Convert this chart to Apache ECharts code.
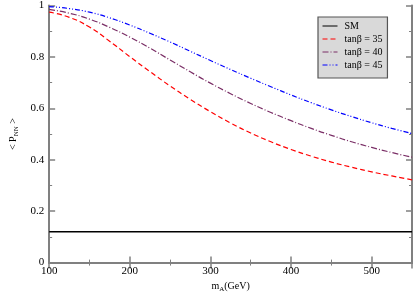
<!DOCTYPE html>
<html>
<head>
<meta charset="utf-8">
<script src="https://cdn.jsdelivr.net/npm/echarts@6/dist/echarts.min.js"></script>
<style>html,body{margin:0;padding:0;background:#fff}#c{width:415px;height:298px}</style>
</head>
<body>
<div id="c"></div>
<script>
var mA = [100,125,150,175,200,225,250,275,300,325,350,375,400,425,450,475,500,525,550];
var tan35 = [0.974,0.954,0.916,0.861,0.801,0.743,0.687,0.635,0.587,0.543,0.504,0.470,0.440,0.414,0.391,0.371,0.353,0.337,0.322];
var tan40 = [0.985,0.970,0.947,0.915,0.877,0.834,0.788,0.742,0.698,0.657,0.619,0.584,0.552,0.522,0.495,0.470,0.448,0.428,0.410];
var tan45 = [0.996,0.988,0.974,0.952,0.924,0.892,0.858,0.822,0.786,0.751,0.717,0.684,0.652,0.622,0.594,0.568,0.544,0.522,0.502];
var smX = [100,550];
var smY = [0.12,0.12];
var seriesNames = ['SM','tan\u03b2 = 35','tan\u03b2 = 40','tan\u03b2 = 45'];
var xTickLabels = ['100','200','300','400','500'];
var yTickLabels = ['0','0.2','0.4','0.6','0.8','1'];

function pairs(xs, ys){ return xs.map(function(x,i){return [x, ys[i]];}); }
var serif = 'Liberation Serif';
var axisGray = '#808080';

var chart = echarts.init(document.getElementById('c'));
function axisCommon(){
  return {
    axisLine:{show:true, lineStyle:{color:axisGray, width:2}},
    axisTick:{show:true, inside:true, length:6, lineStyle:{color:axisGray, width:1.5}},
    minorTick:{show:true, splitNumber:2, length:3, lineStyle:{color:axisGray, width:1}},
    splitLine:{show:false}
  };
}
var xB = Object.assign(axisCommon(), {
  type:'value', min:100, max:550, interval:100, position:'bottom',
  axisLabel:{fontFamily:serif, fontSize:11, color:'#000', margin:3,
    formatter:function(v){ var s=String(v); return xTickLabels.indexOf(s)>=0 ? s : ''; }},
  name:'m{sub|A}(GeV)', nameLocation:'middle', nameGap:17,
  nameTextStyle:{fontFamily:serif, fontSize:10, color:'#000', rich:{sub:{fontFamily:serif, fontSize:7, verticalAlign:'bottom', padding:[6,0,0,0]}}}
});
var xT = Object.assign(axisCommon(), {type:'value', min:100, max:550, interval:100, position:'top', axisLabel:{show:false}});
var yL = Object.assign(axisCommon(), {
  type:'value', min:0, max:1, interval:0.2, position:'left',
  axisLabel:{fontFamily:serif, fontSize:11, color:'#000', margin:5,
    formatter:function(v){ var s=String(Math.round(v*10)/10); return yTickLabels.indexOf(s)>=0 ? s : ''; }},
  name:'< P{sub|NN} >', nameLocation:'middle', nameGap:27, nameRotate:90,
  nameTextStyle:{fontFamily:serif, fontSize:10, color:'#000', rich:{sub:{fontFamily:serif, fontSize:7, padding:[6,0,0,0]}}}
});
var yR = Object.assign(axisCommon(), {type:'value', min:0, max:1, interval:0.2, position:'right', axisLabel:{show:false}});

chart.setOption({
  animation:false,
  grid:{left:33, right:1, top:5, bottom:28, containLabel:false},
  xAxis:[xB, xT],
  yAxis:[yL, yR],
  legend:{
    orient:'vertical', left:318, top:17, padding:[4,5,8,4], itemGap:3,
    backgroundColor:'#d9d9d9', borderColor:'#555', borderWidth:1.2, borderRadius:0,
    itemWidth:15, itemHeight:10,
    itemStyle:{opacity:0},
    lineStyle:{width:1},
    textStyle:{fontFamily:serif, fontSize:10, color:'#000', padding:[0,0,0,2]},
    data:seriesNames
  },
  series:[
    {name:seriesNames[0], type:'line', symbol:'none', data:pairs(smX,smY), lineStyle:{color:'#000', width:1.5}, itemStyle:{color:'#000'}},
    {name:seriesNames[1], type:'line', symbol:'none', data:pairs(mA,tan35), smooth:true, lineStyle:{color:'#ff0000', width:1.2, type:[5,3]}, itemStyle:{color:'#ff0000'}},
    {name:seriesNames[2], type:'line', symbol:'none', data:pairs(mA,tan40), smooth:true, lineStyle:{color:'#7a2e66', width:1.2, type:[6,2,1,2]}, itemStyle:{color:'#7a2e66'}},
    {name:seriesNames[3], type:'line', symbol:'none', data:pairs(mA,tan45), smooth:true, lineStyle:{color:'#0000ff', width:1.2, type:[5,2,1,2,1,2]}, itemStyle:{color:'#0000ff'}}
  ]
});
</script>
</body>
</html>
